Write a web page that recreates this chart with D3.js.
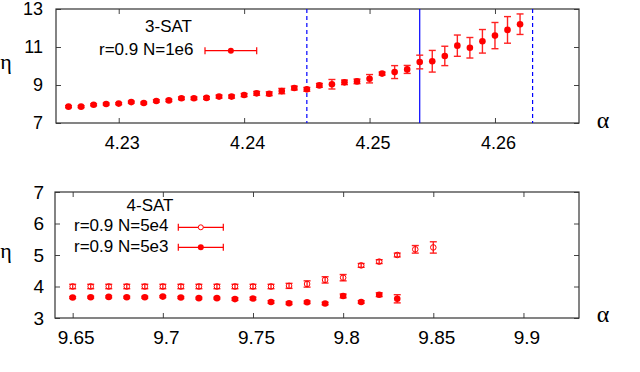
<!DOCTYPE html>
<html><head><meta charset="utf-8">
<script src="https://cdn.jsdelivr.net/npm/d3@7"></script>
<style>body{margin:0;background:#fff}svg{display:block}</style>
</head><body><svg id="c" width="640" height="372"></svg>
<script>
// ---- 3-SAT panel data ----
const alpha3 = [4.226,4.227,4.228,4.229,4.230,4.231,4.232,4.233,4.234,4.235,4.236,4.237,4.238,4.239,4.240,4.241,4.242,4.243,4.244,4.245,4.246,4.247,4.248,4.249,4.250,4.251,4.252,4.253,4.254,4.255,4.256,4.257,4.258,4.259,4.260,4.261,4.262];
const eta3 = [7.86,7.86,7.96,8.00,8.02,8.10,8.05,8.16,8.19,8.30,8.30,8.32,8.39,8.39,8.47,8.56,8.54,8.68,8.84,8.77,8.98,9.04,9.14,9.19,9.33,9.60,9.68,9.82,10.21,10.25,10.53,11.07,10.96,11.30,11.60,11.90,12.20];
const err3 = [0.05,0.05,0.05,0.05,0.05,0.05,0.05,0.06,0.06,0.07,0.07,0.07,0.08,0.08,0.08,0.10,0.10,0.14,0.10,0.10,0.10,0.25,0.12,0.12,0.22,0.08,0.34,0.21,0.36,0.57,0.51,0.56,0.54,0.62,0.69,0.70,0.54];
const xTicks3 = [4.23,4.24,4.25,4.26];
const yTicks3 = [7,9,11,13];
const dashedLines3 = [4.245,4.263];
const solidLines3 = [4.254];
const title3 = "3-SAT";
const legend3 = ["r=0.9 N=1e6"];

// ---- 4-SAT panel data ----
const alpha4a = [9.65,9.66,9.67,9.68,9.69,9.70,9.71,9.72,9.73,9.74,9.75,9.76,9.77,9.78,9.79,9.80,9.81,9.82,9.83,9.84,9.85];
const eta4a = [4.00,4.00,4.00,4.00,4.00,4.00,4.00,4.00,4.00,4.00,4.00,4.00,4.02,4.08,4.21,4.28,4.67,4.79,5.00,5.18,5.24];
const err4a = [0.07,0.07,0.07,0.07,0.07,0.07,0.07,0.07,0.07,0.07,0.07,0.07,0.08,0.10,0.10,0.10,0.06,0.06,0.06,0.12,0.18];
const alpha4b = [9.65,9.66,9.67,9.68,9.69,9.70,9.71,9.72,9.73,9.74,9.75,9.76,9.77,9.78,9.79,9.80,9.81,9.82,9.83];
const eta4b = [3.65,3.66,3.67,3.66,3.66,3.68,3.65,3.63,3.63,3.60,3.62,3.51,3.47,3.50,3.46,3.70,3.51,3.74,3.61];
const err4b = [0.03,0.03,0.03,0.03,0.03,0.03,0.03,0.03,0.03,0.04,0.04,0.04,0.04,0.04,0.04,0.06,0.04,0.06,0.13];
const xTicks4 = [9.65,9.7,9.75,9.8,9.85,9.9];
const yTicks4 = [3,4,5,6,7];
const title4 = "4-SAT";
const legend4 = ["r=0.9 N=5e4","r=0.9 N=5e3"];

const RED = "#ff0000", BLUE = "#0000ff";
const svg = d3.select("#c");
const FONT = "'Liberation Sans', Arial, sans-serif";
const SERIF = "'Liberation Serif', 'DejaVu Serif', serif";

function panel(o){
  const g = svg.append("g");
  const x = d3.scaleLinear().domain(o.xd).range([o.l,o.r]);
  const y = d3.scaleLinear().domain(o.yd).range([o.b,o.t]);
  const fmt = d => String(+d.toFixed(3));
  const axStyle = sel => { sel.select(".domain").remove(); sel.selectAll("line").attr("stroke","#444"); sel.selectAll("text").attr("font-family",FONT).attr("font-size",o.fs).attr("fill","#000"); };
  g.append("g").attr("transform",`translate(0,${o.b})`)
    .call(d3.axisBottom(x).tickValues(o.xt).tickFormat(fmt).tickSizeInner(-5).tickSizeOuter(0).tickPadding(o.xpad))
    .call(axStyle).call(s=>s.selectAll("text").attr("dx",3));
  g.append("g").attr("transform",`translate(0,${o.t})`)
    .call(d3.axisTop(x).tickValues(o.xt).tickFormat("").tickSizeInner(-5).tickSizeOuter(0)).call(axStyle);
  g.append("g").attr("transform",`translate(${o.l},0)`)
    .call(d3.axisLeft(y).tickValues(o.yt).tickFormat(fmt).tickSizeInner(-5).tickSizeOuter(0).tickPadding(o.ypad))
    .call(axStyle);
  g.append("g").attr("transform",`translate(${o.r},0)`)
    .call(d3.axisRight(y).tickValues(o.yt).tickFormat("").tickSizeInner(-5).tickSizeOuter(0)).call(axStyle);
  g.append("rect").attr("x",o.l).attr("y",o.t).attr("width",o.r-o.l).attr("height",o.b-o.t)
    .attr("fill","none").attr("stroke","#333").attr("stroke-width",1.2);
  g.append("text").attr("x",o.etaX).attr("y",o.etaY).attr("font-family",SERIF).attr("font-size",22).attr("text-anchor","middle").text("η");
  g.append("text").attr("x",o.alX).attr("y",o.alY).attr("font-family",SERIF).attr("font-size",24).attr("text-anchor","middle").text("α");
  return {g,x,y};
}

function errSeries(p, xs, ys, es, open, r){
  const gg = p.g.append("g");
  xs.forEach((a,i)=>{
    const cx = p.x(a), y0 = p.y(ys[i]-es[i]), y1 = p.y(ys[i]+es[i]);
    gg.append("line").attr("x1",cx).attr("x2",cx).attr("y1",y0).attr("y2",y1).attr("stroke","#f22").attr("stroke-width",1.4);
    [y0,y1].forEach(yy=>gg.append("line").attr("x1",cx-3.5).attr("x2",cx+3.5).attr("y1",yy).attr("y2",yy).attr("stroke","#f22").attr("stroke-width",1.4));
    gg.append("circle").attr("cx",cx).attr("cy",p.y(ys[i])).attr("r",r)
      .attr("fill",open?"none":RED).attr("stroke",RED).attr("stroke-width",open?1:0);
  });
}

function legendSample(g, x0, x1, y, open, r){
  g.append("line").attr("x1",x0).attr("x2",x1).attr("y1",y).attr("y2",y).attr("stroke",RED).attr("stroke-width",1.2);
  [x0,x1].forEach(xx=>g.append("line").attr("x1",xx).attr("x2",xx).attr("y1",y-3.5).attr("y2",y+3.5).attr("stroke",RED).attr("stroke-width",1.2));
  g.append("circle").attr("cx",(x0+x1)/2).attr("cy",y).attr("r",r).attr("fill",open?"#fff":RED).attr("stroke",RED).attr("stroke-width",open?1:0);
}

// top panel
const p3 = panel({l:56,r:579,t:9,b:123,xd:[4.225,4.2667],yd:[7,13],xt:xTicks3,yt:yTicks3,fs:18,xpad:13,ypad:13,etaX:6,etaY:69,alX:603,alY:128});
dashedLines3.forEach(v=>p3.g.append("line").attr("x1",p3.x(v)).attr("x2",p3.x(v)).attr("y1",9).attr("y2",123).attr("stroke",BLUE).attr("stroke-width",1.2).attr("stroke-dasharray","4,3"));
solidLines3.forEach(v=>p3.g.append("line").attr("x1",p3.x(v)).attr("x2",p3.x(v)).attr("y1",9).attr("y2",123).attr("stroke",BLUE).attr("stroke-width",1.2));
errSeries(p3, alpha3, eta3, err3, false, 3.3);
p3.g.append("text").attr("x",192).attr("y",32).attr("text-anchor","end").attr("font-family",FONT).attr("font-size",17).text(title3);
p3.g.append("text").attr("x",193.5).attr("y",54.5).attr("text-anchor","end").attr("font-family",FONT).attr("font-size",17).text(legend3[0]);
legendSample(p3.g, 205, 256.7, 50.7, false, 3);

// bottom panel
const p4 = panel({l:55,r:579,t:192,b:318,xd:[9.6402,9.9308],yd:[3,7],xt:xTicks4,yt:yTicks4,fs:19,xpad:13,ypad:11,etaX:6,etaY:258,alX:603,alY:322});
errSeries(p4, alpha4a, eta4a, err4a, true, 2.8);
errSeries(p4, alpha4b, eta4b, err4b, false, 3.3);
p4.g.append("text").attr("x",173.5).attr("y",211).attr("text-anchor","end").attr("font-family",FONT).attr("font-size",17).text(title4);
p4.g.append("text").attr("x",168.5).attr("y",231).attr("text-anchor","end").attr("font-family",FONT).attr("font-size",17).text(legend4[0]);
p4.g.append("text").attr("x",168.5).attr("y",252).attr("text-anchor","end").attr("font-family",FONT).attr("font-size",17).text(legend4[1]);
legendSample(p4.g, 178.3, 223.3, 227.3, true, 2.5);
legendSample(p4.g, 178.3, 223.3, 247.3, false, 3);
</script></body></html>
